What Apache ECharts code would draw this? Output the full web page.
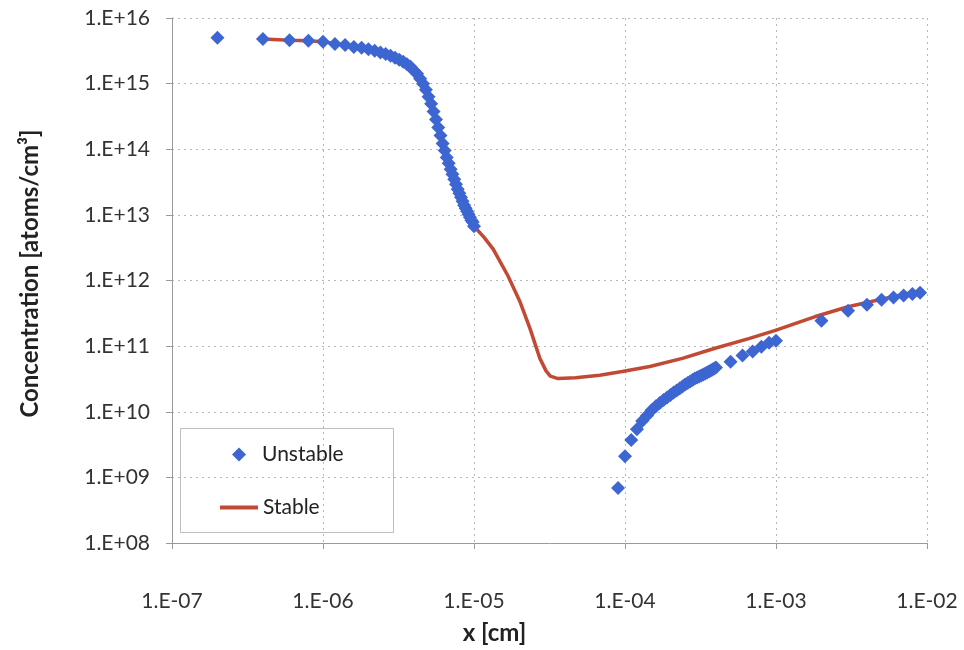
<!DOCTYPE html>
<html>
<head>
<meta charset="utf-8">
<script src="https://cdn.jsdelivr.net/npm/echarts@6/dist/echarts.min.js"></script>
<style>
html,body{margin:0;padding:0;background:#fff;}
#chart{width:964px;height:650px;}
</style>
</head>
<body>
<div id="chart"></div>
<script>
// ---- Data ----
const unstableX = [
  2e-7, 4e-7, 6e-7, 8e-7, 1.0e-6, 1.2e-6, 1.4e-6, 1.6e-6, 1.8e-6, 2.0e-6,
  2.2e-6, 2.4e-6, 2.6e-6, 2.8e-6, 3.0e-6, 3.2e-6, 3.4e-6, 3.6e-6, 3.8e-6, 4.0e-6,
  4.2e-6, 4.4e-6, 4.6e-6, 4.8e-6, 5.0e-6, 5.2e-6, 5.4e-6, 5.6e-6, 5.8e-6, 6.0e-6,
  6.2e-6, 6.4e-6, 6.6e-6, 6.8e-6, 7.0e-6, 7.2e-6, 7.4e-6, 7.6e-6, 7.8e-6, 8.0e-6,
  8.2e-6, 8.4e-6, 8.6e-6, 8.8e-6, 9.0e-6, 9.2e-6, 9.4e-6, 9.6e-6, 9.8e-6, 1.0e-5,
  9e-5, 1.0e-4, 1.1e-4, 1.2e-4, 1.3e-4, 1.4e-4, 1.5e-4, 1.6e-4, 1.7e-4, 1.8e-4,
  1.9e-4, 2.0e-4, 2.1e-4, 2.2e-4, 2.3e-4, 2.4e-4, 2.5e-4, 2.6e-4, 2.7e-4, 2.8e-4,
  2.9e-4, 3.0e-4, 3.1e-4, 3.2e-4, 3.3e-4, 3.4e-4, 3.5e-4, 3.6e-4, 3.7e-4, 3.8e-4,
  3.9e-4, 4.0e-4, 5e-4, 6e-4, 7e-4, 8e-4, 9e-4, 1e-3,
  2e-3, 3e-3, 4e-3, 5e-3, 6e-3, 7e-3, 8e-3, 9e-3
];
const unstableY = [
  5.0e15, 4.8e15, 4.6e15, 4.5e15, 4.33e15, 4.03e15, 3.89e15, 3.63e15, 3.51e15, 3.33e15,
  3.16e15, 2.99e15, 2.84e15, 2.65e15, 2.47e15, 2.31e15, 2.15e15, 1.97e15, 1.80e15, 1.57e15,
  1.41e15, 1.19e15, 9.96e14, 8.07e14, 6.32e14, 4.95e14, 3.75e14, 2.83e14, 2.14e14, 1.62e14,
  1.22e14, 9.6e13, 7.5e13, 6.1e13, 4.94e13, 4.15e13, 3.48e13, 2.93e13, 2.46e13, 2.13e13,
  1.86e13, 1.61e13, 1.40e13, 1.26e13, 1.14e13, 1.02e13, 9.2e12, 8.3e12, 7.8e12, 6.7e12,
  6.9e8, 2.1e9, 3.7e9, 5.4e9, 7.2e9, 8.8e9, 1.05e10, 1.21e10, 1.36e10, 1.51e10,
  1.65e10, 1.80e10, 1.97e10, 2.11e10, 2.27e10, 2.43e10, 2.6e10, 2.75e10, 2.89e10, 3.05e10,
  3.21e10, 3.33e10, 3.44e10, 3.57e10, 3.69e10, 3.83e10, 3.96e10, 4.1e10, 4.25e10, 4.4e10,
  4.56e10, 4.72e10, 5.8e10, 7.2e10, 8.3e10, 9.8e10, 1.13e11, 1.21e11,
  2.44e11, 3.46e11, 4.27e11, 5.1e11, 5.5e11, 5.9e11, 6.2e11, 6.5e11
];
const stableX = [
  4e-7, 6e-7, 8e-7, 1.0e-6, 1.4e-6, 2.0e-6, 2.6e-6, 3.0e-6, 3.4e-6, 3.8e-6,
  4.2e-6, 4.6e-6, 5.0e-6, 5.4e-6, 5.8e-6, 6.2e-6, 6.6e-6, 7.0e-6, 7.6e-6, 8.2e-6,
  8.8e-6, 9.4e-6, 1.0e-5, 1.17e-5, 1.34e-5, 1.68e-5, 2.02e-5, 2.35e-5, 2.73e-5, 3.0e-5,
  3.2e-5, 3.6e-5, 4.7e-5, 6.8e-5, 9.6e-5, 1.46e-4, 2.4e-4, 3.9e-4, 6.6e-4, 9.8e-4,
  1.8e-3, 3.0e-3, 4.5e-3, 8.0e-3, 9.5e-3
];
const stableY = [
  4.8e15, 4.6e15, 4.5e15, 4.33e15, 3.89e15, 3.33e15, 2.84e15, 2.47e15, 2.15e15, 1.80e15,
  1.41e15, 9.96e14, 6.32e14, 3.75e14, 2.14e14, 1.22e14, 7.5e13, 4.94e13, 2.93e13, 1.86e13,
  1.26e13, 9.2e12, 6.7e12, 4.5e12, 3.0e12, 1.17e12, 4.7e11, 1.85e11, 6.5e10, 4.2e10,
  3.5e10, 3.2e10, 3.3e10, 3.6e10, 4.1e10, 4.9e10, 6.5e10, 9.2e10, 1.3e11, 1.72e11,
  2.8e11, 3.98e11, 4.9e11, 6.6e11, 6.95e11
];
const seriesNames = ['Unstable', 'Stable'];
const xAxisTitle = 'x [cm]';
const yAxisTitle = 'Concentration [atoms/cm³]';

function sciLabel(v) {
  const e = Math.round(Math.log10(v));
  return '1.E' + (e < 0 ? '-' : '+') + String(Math.abs(e)).padStart(2, '0');
}

const unstableData = unstableX.map((x, i) => [x, unstableY[i]]);
const stableData = stableX.map((x, i) => [x, stableY[i]]);

const FONT = 'Lato, "Open Sans", sans-serif';
const RED = '#c24a35';
const BLUE = '#3d66d2';
const chart = echarts.init(document.getElementById('chart'));
chart.setOption({
  backgroundColor: '#ffffff',
  animation: false,
  grid: { left: 172, right: 37, top: 18, bottom: 105, containLabel: false },
  xAxis: {
    type: 'log', logBase: 10, min: 1e-7, max: 1e-2, splitNumber: 5,
    name: xAxisTitle, nameLocation: 'middle', nameGap: 78,
    nameTextStyle: { fontFamily: FONT, fontSize: 24, fontWeight: 'bold', color: '#222', padding: [0, 110, 0, 0] },
    axisLine: { lineStyle: { color: '#9a9a9a', width: 1 } },
    axisTick: { show: true, length: 6, lineStyle: { color: '#9a9a9a' } },
    minorTick: { show: false },
    axisLabel: { formatter: sciLabel, margin: 48, fontFamily: FONT, fontSize: 21, color: '#333' },
    splitLine: { show: true, lineStyle: { color: '#b8b8b8', type: [2, 4], width: 1 } }
  },
  yAxis: {
    type: 'log', logBase: 10, min: 1e8, max: 1e16, splitNumber: 8,
    name: yAxisTitle, nameLocation: 'middle', nameGap: 130, nameRotate: 90,
    nameTextStyle: { fontFamily: FONT, fontSize: 24, fontWeight: 'bold', color: '#222', padding: [0, 0, 0, 14] },
    axisLine: { show: true, lineStyle: { color: '#9a9a9a', width: 1 } },
    axisTick: { show: true, length: 6, lineStyle: { color: '#9a9a9a' } },
    axisLabel: { formatter: sciLabel, margin: 22, fontFamily: FONT, fontSize: 21, color: '#333' },
    splitLine: { show: true, lineStyle: { color: '#b8b8b8', type: [2, 4], width: 1 } }
  },
  legend: [
    {
      orient: 'vertical', left: 227, top: 439,
      itemWidth: 14, itemHeight: 14,
      textStyle: { fontFamily: FONT, fontSize: 21, color: '#222', padding: [0, 0, 0, 11] },
      data: [ { name: seriesNames[0], icon: 'diamond', itemStyle: { color: BLUE } } ]
    },
    {
      orient: 'vertical', left: 215, top: 492,
      itemWidth: 38, itemHeight: 4,
      textStyle: { fontFamily: FONT, fontSize: 21, color: '#222' },
      data: [ { name: seriesNames[1], icon: 'rect', itemStyle: { color: RED } } ]
    }
  ],
  graphic: [{
    type: 'rect', left: 180, top: 428, z: -1,
    shape: { width: 213, height: 104 },
    style: { fill: '#fff', stroke: '#bdbdbd', lineWidth: 1 }
  }],
  series: [
    {
      name: seriesNames[1], type: 'line', data: stableData,
      symbol: 'none', smooth: false,
      lineStyle: { color: RED, width: 3.5 },
      itemStyle: { color: RED },
      z: 2
    },
    {
      name: seriesNames[0], type: 'scatter', data: unstableData,
      symbol: 'diamond', symbolSize: 14,
      itemStyle: { color: BLUE, opacity: 1 },
      z: 3
    }
  ]
});
</script>
</body>
</html>
